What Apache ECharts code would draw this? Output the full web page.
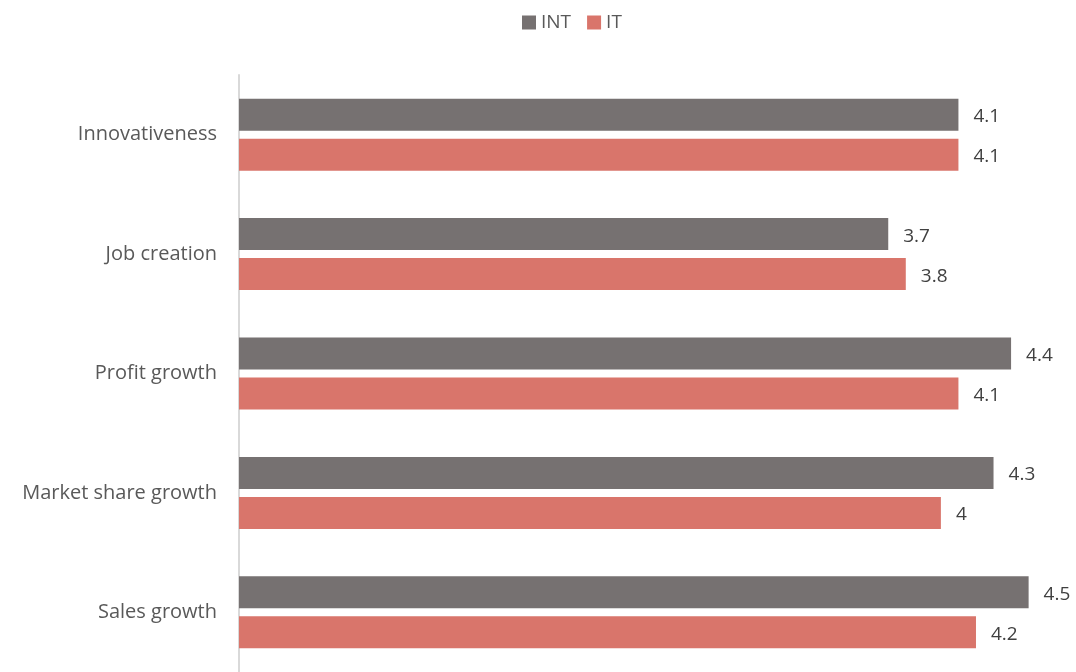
<!DOCTYPE html>
<html>
<head>
<meta charset="utf-8">
<script src="https://cdn.jsdelivr.net/npm/echarts@6/dist/echarts.min.js"></script>
<style>
    html, body { margin: 0; padding: 0; background: #fff; }
    #main { width: 1076px; height: 672px; }
</style>
</head>
<body>
<div id="main"></div>
<script>
const categories = ['Innovativeness', 'Job creation', 'Profit growth', 'Market share growth', 'Sales growth']
const intValues = [4.1, 3.7, 4.4, 4.3, 4.5]
const itValues = [4.1, 3.8, 4.1, 4.0, 4.2]

const fontFamily = '"Open Sans", sans-serif'

const option = {
    animation: false,
    legend: {
        top: 8,
        left: 517,
        itemWidth: 14,
        itemHeight: 14,
        itemGap: 16,
        icon: 'rect',
        textStyle: { fontSize: 19, color: '#595959', fontFamily: fontFamily },
        data: ['INT', 'IT']
    },
    grid: {
        left: 239,
        top: 75,
        width: 837,
        height: 600
    },
    xAxis: {
        type: 'value',
        min: 0,
        max: 4.77,
        show: false
    },
    yAxis: {
        type: 'category',
        inverse: true,
        data: categories,
        axisLine: { show: true, lineStyle: { color: '#d9d9d9', width: 2 } },
        axisTick: { show: false },
        axisLabel: { fontSize: 20, color: '#595959', margin: 22, padding: [0, 0, 0, 0], lineHeight: 28, fontFamily: fontFamily }
    },
    series: [
        {
            name: 'INT',
            type: 'bar',
            data: intValues,
            barWidth: 32,
            barGap: '25%',
            itemStyle: { color: '#767171' },
            label: { show: true, position: 'right', distance: 15, offset: [0, 2], fontSize: 19, color: '#404040', fontFamily: fontFamily }
        },
        {
            name: 'IT',
            type: 'bar',
            data: itValues,
            barWidth: 32,
            barGap: '25%',
            itemStyle: { color: '#d9756b' },
            label: { show: true, position: 'right', distance: 15, offset: [0, 2], fontSize: 19, color: '#404040', fontFamily: fontFamily }
        }
    ]
}

const chart = echarts.init(document.getElementById('main'))
chart.setOption(option)
</script>
</body>
</html>
